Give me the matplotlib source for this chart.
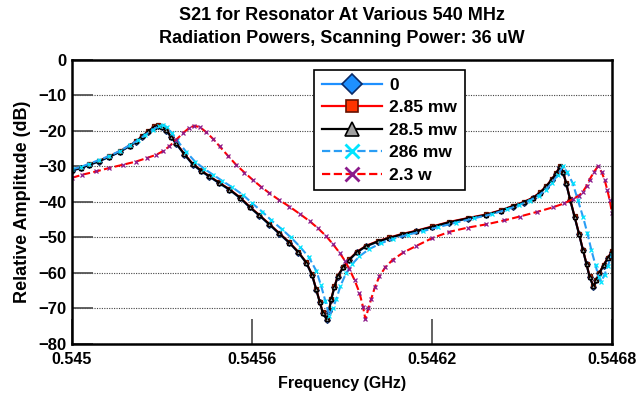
import matplotlib
matplotlib.use("Agg")
import matplotlib.pyplot as plt
from matplotlib.lines import Line2D

plt.rcParams['font.family'] = ['Liberation Sans', 'DejaVu Sans']
plt.rcParams['font.weight'] = 'bold'

# frequency (GHz) for the low power scans (0, 2.85 mw, 28.5 mw)
freq_low = [0.54500, 0.545030, 0.545058, 0.545090, 0.545125, 0.545160, 0.545192,
            0.545215, 0.545235, 0.545255, 0.545275, 0.545287, 0.545300, 0.545314,
            0.545330, 0.545347, 0.545375, 0.545403, 0.545430, 0.545458, 0.545490,
            0.545525, 0.545560, 0.545592, 0.545625, 0.545658, 0.545690, 0.545725,
            0.545755, 0.545781, 0.545800, 0.545814, 0.545826, 0.545836, 0.545849,
            0.545857, 0.545864, 0.545875, 0.545886, 0.545905, 0.545925, 0.545950,
            0.545981, 0.546020, 0.546058, 0.546100, 0.546147, 0.546200, 0.546258,
            0.546320, 0.546381, 0.546430, 0.546469, 0.546505, 0.546536, 0.546560,
            0.546581, 0.546600, 0.546614, 0.546627, 0.546637, 0.546647, 0.546660,
            0.546675, 0.546690, 0.546703, 0.546715, 0.546725, 0.546738, 0.546748,
            0.546758, 0.546772, 0.546786, 0.546800]

s21_0 = [-31.2, -30.5, -29.6, -28.6, -27.3, -25.9, -24.3, -23.0, -21.6, -20.2,
         -18.9, -18.6, -18.9, -19.9, -21.7, -23.6, -26.7, -29.5, -31.3, -32.9,
         -34.7, -36.6, -38.9, -41.5, -43.9, -46.4, -48.9, -51.6, -54.3, -57.2,
         -60.6, -64.7, -68.3, -71.3, -73.1, -70.6, -67.5, -64.0, -61.0, -58.4,
         -56.3, -54.2, -52.5, -51.2, -50.2, -49.2, -48.3, -47.1, -45.8, -44.7,
         -43.7, -42.5, -41.3, -40.2, -39.0, -37.5, -35.7, -33.7, -32.0, -30.1,
         -31.7, -34.8, -39.3, -44.2, -49.1, -53.6, -57.6, -61.1, -63.9, -62.1,
         -60.1, -57.9, -55.9, -54.1]

s21_285mw = [-31.0, -30.3, -29.4, -28.4, -27.1, -25.7, -24.1, -22.8, -21.4, -20.0,
             -18.7, -18.4, -18.7, -19.7, -21.5, -23.4, -26.5, -29.3, -31.1, -32.7,
             -34.5, -36.4, -38.7, -41.3, -43.7, -46.2, -48.7, -51.4, -54.1, -57.0,
             -60.4, -64.5, -68.1, -71.1, -72.9, -70.4, -67.3, -63.8, -60.8, -58.2,
             -56.1, -54.0, -52.3, -51.0, -50.0, -49.0, -48.1, -46.9, -45.6, -44.5,
             -43.5, -42.3, -41.1, -40.0, -38.8, -37.3, -35.5, -33.5, -31.8, -29.9,
             -31.5, -34.6, -39.1, -44.0, -48.9, -53.4, -57.4, -60.9, -63.7, -61.9,
             -59.9, -57.7, -55.7, -53.9]

s21_285mw_b = [-31.1, -30.4, -29.5, -28.5, -27.2, -25.8, -24.2, -22.9, -21.5, -20.1,
               -18.8, -18.5, -18.8, -19.8, -21.6, -23.5, -26.6, -29.4, -31.2, -32.8,
               -34.6, -36.5, -38.8, -41.4, -43.8, -46.3, -48.8, -51.5, -54.2, -57.1,
               -60.5, -64.6, -68.2, -71.2, -73.0, -70.5, -67.4, -63.9, -60.9, -58.3,
               -56.2, -54.1, -52.4, -51.1, -50.1, -49.1, -48.2, -47.0, -45.7, -44.6,
               -43.6, -42.4, -41.2, -40.1, -38.9, -37.4, -35.6, -33.6, -31.9, -30.0,
               -31.6, -34.7, -39.2, -44.1, -49.0, -53.5, -57.5, -61.0, -63.8, -62.0,
               -60.0, -57.8, -55.8, -54.0]

freq_286mw = [0.54500, 0.545030, 0.545058, 0.545090, 0.545125, 0.545160, 0.545192,
              0.545220, 0.545245, 0.545270, 0.545290, 0.545303, 0.545318, 0.545333,
              0.545350, 0.545380, 0.545410, 0.545440, 0.545470, 0.545500, 0.545535,
              0.545570, 0.545600, 0.545635, 0.545665, 0.545700, 0.545730, 0.545760,
              0.545790, 0.545815, 0.545830, 0.545845, 0.545858, 0.545870, 0.545881,
              0.545895, 0.545914, 0.545935, 0.545958, 0.545990, 0.546030, 0.546070,
              0.546120, 0.546170, 0.546220, 0.546280, 0.546340, 0.546400, 0.546450,
              0.546490, 0.546525, 0.546555, 0.546580, 0.546600, 0.546620, 0.546636,
              0.546650, 0.546669, 0.546686, 0.546703, 0.546718, 0.546731, 0.546745,
              0.546755, 0.546764, 0.546775, 0.546786, 0.546800]
s21_286mw = [-30.8, -30.1, -29.2, -28.2, -27.0, -25.6, -24.0, -22.6, -21.0, -19.6,
             -18.6, -18.4, -19.0, -20.6, -22.6, -25.8, -28.6, -30.6, -32.3, -34.0,
             -35.9, -38.0, -40.3, -42.8, -45.2, -47.7, -50.0, -52.6, -55.6, -59.5,
             -63.5, -68.0, -72.1, -69.8, -67.4, -63.6, -60.0, -57.4, -55.3, -53.3,
             -51.6, -50.4, -49.2, -48.2, -47.1, -45.8, -44.6, -43.4, -42.1, -40.9,
             -39.6, -38.2, -36.5, -34.6, -32.3, -30.0, -31.5, -34.7, -39.4, -44.1,
             -48.8, -53.5, -57.8, -61.0, -62.4, -60.5, -58.0, -54.8]

freq_23w = [0.54500, 0.545035, 0.545080, 0.545125, 0.545170, 0.545214, 0.545250,
            0.545281, 0.545305, 0.545325, 0.545348, 0.545370, 0.545390, 0.545408,
            0.545428, 0.545447, 0.545470, 0.545492, 0.545520, 0.545547, 0.545575,
            0.545603, 0.545630, 0.545658, 0.545690, 0.545725, 0.545760, 0.545792,
            0.545820, 0.545847, 0.545870, 0.545892, 0.545910, 0.545925, 0.545942,
            0.545958, 0.545970, 0.545978, 0.545988, 0.545997, 0.546010, 0.546025,
            0.546045, 0.546070, 0.546105, 0.546147, 0.546200, 0.546258, 0.546320,
            0.546381, 0.546440, 0.546492, 0.546550, 0.546603, 0.546640, 0.546669,
            0.546690, 0.546703, 0.546715, 0.546725, 0.546740, 0.546753, 0.546765,
            0.546775, 0.546784, 0.546792, 0.546800]
s21_23w = [-33.2, -32.3, -31.4, -30.4, -29.5, -28.6, -27.6, -26.7, -25.6, -24.3,
           -22.4, -20.6, -19.2, -18.5, -19.0, -20.3, -22.2, -24.3, -27.0, -29.5,
           -31.7, -33.8, -35.7, -37.5, -39.4, -41.3, -43.4, -45.4, -47.4, -49.6,
           -51.9, -54.3, -56.6, -59.0, -62.0, -65.5, -69.5, -73.0, -70.0, -67.4,
           -63.9, -60.9, -58.3, -56.2, -54.2, -52.4, -50.2, -48.4, -47.2, -46.3,
           -45.2, -44.1, -42.8, -41.5, -40.4, -39.2, -38.2, -37.1, -35.5, -33.7,
           -31.5, -30.0, -31.5, -33.7, -36.5, -39.4, -43.1]

labels = ['0', '2.85 mw', '28.5 mw', '286 mw', '2.3 w']
xticks = [0.545, 0.5456, 0.5462, 0.5468]
xticklabels = ['0.545', '0.5456', '0.5462', '0.5468']
yticks = [0, -10, -20, -30, -40, -50, -60, -70, -80]

# style per series: line colour, linestyle, marker, face, edge
styles = [
    ('#1E90FF', '-', 'D', '#1E90FF', '#0A2A66'),
    ('#FF0000', '-', 's', '#FF3300', '#661100'),
    ('#000000', '-', '^', '#A0A0A0', '#000000'),
    ('#2A9DF4', '--', 'x', '#00E5FF', '#00E5FF'),
    ('#FF0000', '--', 'x', '#8B1A8B', '#8B1A8B'),
]
series = [(freq_low, s21_0), (freq_low, s21_285mw), (freq_low, s21_285mw_b),
          (freq_286mw, s21_286mw), (freq_23w, s21_23w)]

fig = plt.figure(figsize=(6.42, 3.97), dpi=100)
ax = fig.add_axes([0.1121, 0.1335, 0.8412, 0.7154])

for (fx, fy), (c, ls, m, fc, ec) in zip(series, styles):
    ax.plot(fx, fy, color=c, linestyle=ls, linewidth=1.5, marker=m,
            markersize=3, markerfacecolor=fc, markeredgecolor=ec,
            markeredgewidth=0.9)

ax.set_xlim(0.545, 0.5468)
ax.set_ylim(-80, 0)
ax.set_xticks(xticks)
ax.set_xticklabels(xticklabels)
ax.set_yticks(yticks)
ax.tick_params(axis='y', direction='in', length=15, width=1.3, color='#555555',
               labelsize=12, pad=4)
ax.tick_params(axis='x', direction='in', length=18, width=1.3, color='#555555',
               labelsize=11.5, pad=6)
ax.yaxis.grid(True, linestyle=(0, (1, 1.2)), color='#444444', linewidth=0.8)
ax.set_axisbelow(True)
for sp in ax.spines.values():
    sp.set_linewidth(1.8)

ax.set_xlabel('Frequency (GHz)', fontsize=11.5, fontweight='bold', labelpad=6)
ax.set_ylabel('Relative Amplitude (dB)', fontsize=13, fontweight='bold', labelpad=5)
ax.set_title('S21 for Resonator At Various 540 MHz\nRadiation Powers, Scanning Power: 36 uW',
             fontsize=13, fontweight='bold', linespacing=1.45, pad=12)

handles = []
for c, ls, m, fc, ec in styles:
    handles.append(Line2D([], [], color=c, linestyle=ls, linewidth=1.6, marker=m,
                          markersize=10 if m != 's' else 9, markerfacecolor=fc,
                          markeredgecolor=ec, markeredgewidth=1.2 if m != 'x' else 2))
leg = ax.legend(handles, labels, loc='upper left', bbox_to_anchor=(0.448, 0.965),
                borderaxespad=0, fontsize=12.5, handlelength=3.5, handletextpad=0.4,
                labelspacing=0.42, borderpad=0.45, fancybox=False, framealpha=1,
                edgecolor='black')
leg.get_frame().set_linewidth(1.2)

fig.savefig('out.png', dpi=100)
